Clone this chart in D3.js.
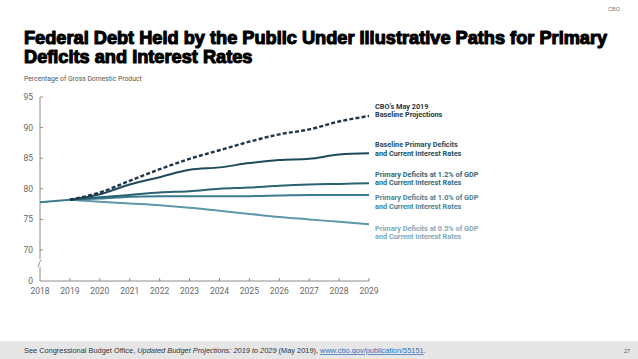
<!DOCTYPE html>
<html><head><meta charset="utf-8">
<script src="https://cdn.jsdelivr.net/npm/d3@7"></script>
<style>
html,body{margin:0;padding:0;background:#fff;}
svg{display:block;}
</style></head>
<body>
<script>
const years = [2018,2019,2020,2021,2022,2023,2024,2025,2026,2027,2028,2029];
const projYears = [2019,2020,2021,2022,2023,2024,2025,2026,2027,2028,2029];
const history = [77.8, 78.2];
const cboBaseline = [78.2, 79.4, 81.3, 83.2, 84.9, 86.3, 87.7, 88.9, 89.7, 91.0, 91.9];
const baselineDeficits = [78.2, 79.1, 80.7, 81.9, 83.1, 83.5, 84.2, 84.7, 84.9, 85.6, 85.8];
const deficit12 = [78.2, 78.6, 79.0, 79.4, 79.6, 80.0, 80.2, 80.5, 80.7, 80.8, 80.9];
const deficit10 = [78.2, 78.4, 78.7, 78.8, 78.8, 78.8, 78.8, 78.9, 79.0, 79.0, 79.0];
const deficit05 = [78.2, 77.9, 77.6, 77.3, 76.9, 76.4, 75.9, 75.4, 75.0, 74.6, 74.2];
const yTicks = [0, 70, 75, 80, 85, 90, 95];
const seriesLabels = [
  ["CBO\u2019s May 2019", "Baseline Projections"],
  ["Baseline Primary Deficits", "and Current Interest Rates"],
  ["Primary Deficits at 1.2% of GDP", "and Current Interest Rates"],
  ["Primary Deficits at 1.0% of GDP", "and Current Interest Rates"],
  ["Primary Deficits at 0.5% of GDP", "and Current Interest Rates"]
];

const W = 638, H = 359;
const svg = d3.select("body").append("svg").attr("width", W).attr("height", H);
const narrow = "'Liberation Sans Narrow','Roboto','Liberation Sans',sans-serif";

// Title
svg.append("text").attr("x", 620).attr("y", 11).attr("text-anchor","end")
  .attr("font-family","Liberation Sans, Arial, sans-serif").attr("font-size",5.5).attr("fill","#777").text("CBO");
const title = svg.append("g").attr("font-family","'Liberation Sans', Arial, sans-serif")
  .attr("font-weight","bold").attr("font-size",18.2).attr("fill","#000")
  .attr("stroke","#000").attr("stroke-width",1.1).attr("stroke-linejoin","round");
title.append("text").attr("x",24).attr("y",44).text("Federal Debt Held by the Public Under Illustrative Paths for Primary");
title.append("text").attr("x",24).attr("y",63).text("Deficits and Interest Rates");

svg.append("text").attr("x",24).attr("y",81).attr("font-family",narrow).attr("font-size",6.8)
  .attr("fill","#555").text("Percentage of Gross Domestic Product");

// Scales
const x = d3.scaleLinear().domain([2018, 2029]).range([40, 369]);
const y = d3.scaleLinear().domain([0, 70, 95]).range([281, 250, 97]);

const axisColor = "#8c8c8c";
const g = svg.append("g");
// Y axis line with break
g.append("line").attr("x1",x(2018)).attr("x2",x(2018)).attr("y1",y(95)).attr("y2",259).attr("stroke",axisColor).attr("stroke-width",1);
g.append("path").attr("d",`M${x(2018)-2},267 Q${x(2018)-1},262 ${x(2018)+1.5},259.5`).attr("fill","none").attr("stroke",axisColor).attr("stroke-width",1);
g.append("line").attr("x1",x(2018)).attr("x2",x(2018)).attr("y1",267).attr("y2",y(0)).attr("stroke",axisColor).attr("stroke-width",1);
// Y ticks
yTicks.forEach(t => {
  if (t !== 0) g.append("line").attr("x1",x(2018)).attr("x2",x(2018)+3).attr("y1",y(t)).attr("y2",y(t)).attr("stroke",axisColor);
  g.append("text").attr("x",33).attr("y",y(t)+3).attr("text-anchor","end")
    .attr("font-family",narrow).attr("font-size",8.5).attr("fill","#666").text(t);
});
// X axis
g.append("line").attr("x1",x(2018)).attr("x2",x(2029)).attr("y1",y(0)).attr("y2",y(0)).attr("stroke",axisColor);
years.forEach(yr => {
  if (yr !== 2018) g.append("line").attr("x1",x(yr)).attr("x2",x(yr)).attr("y1",y(0)).attr("y2",y(0)-3).attr("stroke",axisColor);
  g.append("text").attr("x",x(yr)).attr("y",y(0)+13).attr("text-anchor","middle")
    .attr("font-family",narrow).attr("font-size",8.5).attr("fill","#666").text(yr);
});

// Lines
const line = d3.line().x(d => x(d[0])).y(d => y(d[1])).curve(d3.curveMonotoneX);
const lineColors = ["#1f3546", "#1f4a5a", "#2a6274", "#3a7a8d", "#5e97aa"];
const labelColors = ["#243847", "#234f60", "#2f6a7d", "#4a8497", "#80a9b9"];
const seriesData = [cboBaseline, baselineDeficits, deficit12, deficit10, deficit05];

g.append("path").attr("d", line(years.slice(0,2).map((yr,i)=>[yr,history[i]])))
  .attr("fill","none").attr("stroke","#3a7a8d").attr("stroke-width",2);

[4,3,2,1,0].forEach(i => {
  g.append("path").attr("d", line(projYears.map((yr,j)=>[yr, seriesData[i][j]])))
    .attr("fill","none").attr("stroke", lineColors[i])
    .attr("stroke-width", i===0 ? 2.4 : 2)
    .attr("stroke-dasharray", i===0 ? "4,2.2" : null)
    .attr("stroke-linecap","butt");
});

// Labels
const labelY = [105.5, 144, 173.5, 197, 227.5];
seriesLabels.forEach((lab, i) => {
  const t = g.append("text").attr("font-family",narrow).attr("font-weight","bold")
    .attr("font-size",7.3).attr("fill",labelColors[i]);
  lab.forEach((s, k) => t.append("tspan").attr("x",375).attr("y",labelY[i]+3+k*8.8).text(s));
});

// Footer
svg.append("rect").attr("x",0).attr("y",341).attr("width",W).attr("height",H-341).attr("fill","#e6e6e6");
const ft = svg.append("text").attr("x",24).attr("y",353).attr("font-family","'Liberation Sans', Arial, sans-serif")
  .attr("font-size",7.4).attr("fill","#333");
ft.append("tspan").text("See Congressional Budget Office, ");
ft.append("tspan").attr("font-style","italic").text("Updated Budget Projections: 2019 to 2029");
ft.append("tspan").text(" (May 2019), ");
ft.append("tspan").attr("fill","#2f6fb5").attr("text-decoration","underline").text("www.cbo.gov/publication/55151");
ft.append("tspan").text(".");
svg.append("text").attr("x",630).attr("y",353).attr("text-anchor","end").attr("font-family","'Liberation Sans', Arial, sans-serif")
  .attr("font-size",5.5).attr("fill","#555").text("27");
</script>
</body></html>
